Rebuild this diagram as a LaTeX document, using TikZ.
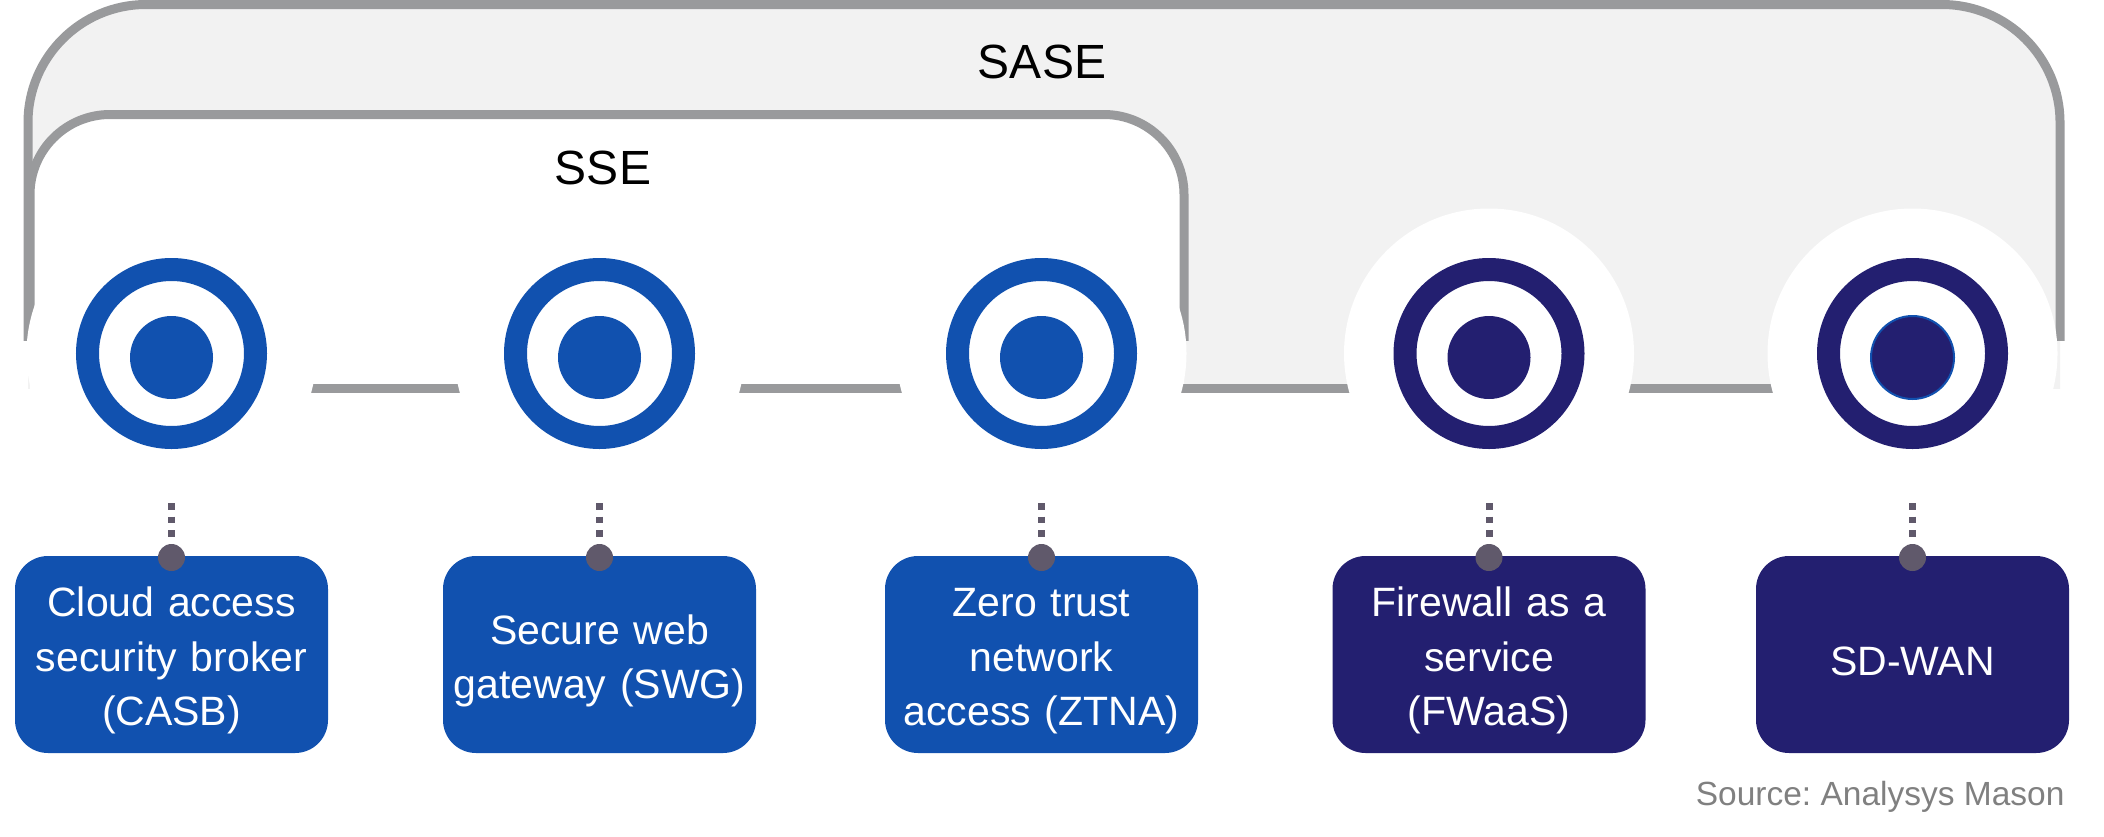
\documentclass[tikz,border=0pt]{standalone}
\usepackage{fontspec}
\setmainfont{Liberation Sans}
\usetikzlibrary{positioning}
\definecolor{sseblue}{RGB}{17,81,175}
\definecolor{sasenavy}{RGB}{35,31,112}
\definecolor{framegray}{RGB}{153,154,156}
\definecolor{sasefill}{RGB}{242,242,242}
\definecolor{pingray}{RGB}{96,89,107}
\definecolor{srcgray}{RGB}{128,128,128}
\pgfdeclarelayer{background}
\pgfsetlayers{background,main}
\frenchspacing
\tikzset{
  halo/.style = {circle, fill=white, minimum size=290pt, inner sep=0pt},
  ring/.style = {circle, draw=#1, line width=23pt, minimum size=168pt,
    inner sep=0pt, outer sep=0pt,
    path picture={\fill[#1] ([yshift=-4pt]path picture bounding box.center)
      circle (41.5pt);}},% ring with centre dot
  svc/.style = {rectangle, rounded corners=33pt, fill=#1, text=white,
    minimum width=313pt, minimum height=197pt, text width=300pt,
    align=center, inner sep=0pt, outer sep=0pt,
    font=\fontsize{41}{54.5}\selectfont,
    execute at begin node={\rule{0pt}{42pt}}},% service box
  framestroke/.style = {draw=framegray, line width=9pt},
  pinline/.style = {draw=pingray, line width=7pt, dash pattern=on 6.5pt off 7pt},
  grouplabel/.style = {font=\fontsize{48}{58}\selectfont, anchor=base}
}
\begin{document}
\begin{tikzpicture}[x=1pt, y=-1pt]
\useasboundingbox (0,0) rectangle (2104,836);
% white space round the rings
\node[halo] (casb-h) at (171.5,353.5) {};
\node[halo] (swg-h) at (599.5,353.5) {};
\node[halo] (ztna-h) at (1041.5,353.5) {};
\node[halo] (fwaas-h) at (1489,353.5) {};
\node[halo] (sdwan-h) at (1912.5,353.5) {};
% rings
\node[ring=sseblue] (casb) at (casb-h) {};
\node[ring=sseblue] (swg) at (swg-h) {};
\node[ring=sseblue] (ztna) at (ztna-h) {};
\node[ring=sasenavy] (fwaas) at (fwaas-h) {};
\node[ring=sasenavy] (sdwan) at (sdwan-h) {};
\draw[sseblue, line width=2pt] ([yshift=-4pt]sdwan.center) circle (41.5);
% boxes
\node[svc=sseblue, below=118.5pt of casb] (casb-box) {Cloud access\\security broker\\(CASB)};
\node[svc=sseblue, below=118.5pt of swg] (swg-box) {Secure web\\gateway (SWG)};
\node[svc=sseblue, below=118.5pt of ztna] (ztna-box) {Zero trust\\network\\access (ZTNA)};
\node[svc=sasenavy, below=118.5pt of fwaas] (fwaas-box) {Firewall as a\\service\\(FWaaS)};
\node[svc=sasenavy, below=118.5pt of sdwan] (sdwan-box) {SD-WAN};
% dotted pins
\draw[pinline, shorten <=65.5pt, shorten >=19pt] (casb) -- (casb-box);
\draw[pinline, shorten <=65.5pt, shorten >=19pt] (swg) -- (swg-box);
\draw[pinline, shorten <=65.5pt, shorten >=19pt] (ztna) -- (ztna-box);
\draw[pinline, shorten <=65.5pt, shorten >=19pt] (fwaas) -- (fwaas-box);
\draw[pinline, shorten <=65.5pt, shorten >=19pt] (sdwan) -- (sdwan-box);
\fill[pingray] ([yshift=-1.5pt]casb-box.north) circle (13.5);
\fill[pingray] ([yshift=-1.5pt]swg-box.north) circle (13.5);
\fill[pingray] ([yshift=-1.5pt]ztna-box.north) circle (13.5);
\fill[pingray] ([yshift=-1.5pt]fwaas-box.north) circle (13.5);
\fill[pingray] ([yshift=-1.5pt]sdwan-box.north) circle (13.5);
% SASE and SSE frames
\begin{pgfonlayer}{background}
\begin{scope}
\clip (0,0) rectangle (2104,388);
\fill[sasefill, rounded corners=118pt] (28,4.5) rectangle (2060,600);
\fill[white, rounded corners=80pt] (30,114.5) rectangle (1184,600);
\end{scope}
\begin{scope}
\clip (0,0) rectangle (2104,340);
\draw[framestroke, rounded corners=118pt] (28,4.5) rectangle (2060,600);
\draw[framestroke, rounded corners=80pt] (30,114.5) rectangle (1184,600);
\end{scope}
\draw[framestroke] ([yshift=-34.5pt]casb.center) -- ([yshift=-34.5pt]sdwan.center);
\end{pgfonlayer}
% labels
\node[grouplabel] (sase) at (1042,78) {SASE};
\node[grouplabel] (sse) at (603,184) {SSE};
\node[anchor=base east, text=srcgray, font=\fontsize{33.5}{40}\selectfont] (source) at (2068,805) {Source: Analysys Mason};
\end{tikzpicture}
\end{document}
